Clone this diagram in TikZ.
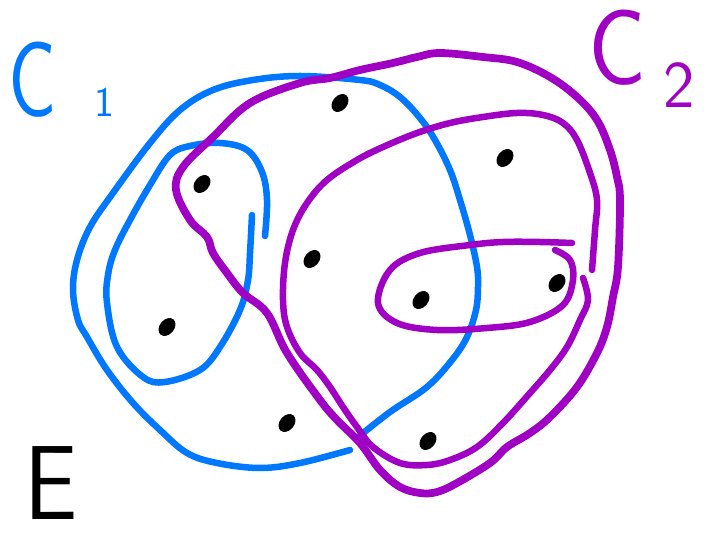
\documentclass[tikz,border=0pt]{standalone}
\usepackage{tikz}
\usetikzlibrary{shapes.geometric}
\definecolor{cblue}{RGB}{0,119,255}
\definecolor{cpurple}{RGB}{160,0,195}

\begin{document}
\begin{tikzpicture}[x=0.02cm, y=-0.02cm, line cap=round, line join=round,
		blueline/.style={draw=cblue, line width=3.7pt},
		purpleline/.style={draw=cpurple, line width=3.7pt},
		pt/.style={ellipse, fill=black, inner sep=0pt, minimum width=0.4cm, minimum height=0.29cm, rotate=50},
		lbl/.style={anchor=base west, inner sep=0pt, font=\sffamily}]
		\useasboundingbox (0,0) rectangle (707,540);
		% C1, outer
		\draw[blueline] plot[smooth, tension=0.6] coordinates {(357,438) (390,412) (427,387) (452,360) (467,337) (476,310) (478,287) (477,267) (470,235) (460,200) (450,170) (435,140) (420,118) (400,97) (380,85) (360,80) (300,76) (253,80) (213,90) (180,110) (150,143) (113,193) (90,227) (77,260) (73,290) (78,320) (87,337) (107,370) (133,403) (160,430) (187,453) (217,463) (260,468) (300,463) (350,450)};
		% C1, inner
		\draw[blueline] plot[smooth, tension=0.6] coordinates {(265,236) (267,200) (262,172) (247,150) (220,143) (190,146) (170,155) (150,185) (130,220) (115,250) (108,275) (107,303) (117,347) (143,377) (165,382) (200,370) (220,347) (240,310) (248,280) (250,253) (252,215)};
		% C2, outer
		\draw[purpleline, line width=4.4pt] plot[smooth cycle, tension=0.6] coordinates {(176,190) (190,220) (207,237) (213,253) (227,273) (243,293) (267,313) (287,353) (320,400) (337,420) (360,443) (380,470) (400,487) (420,493) (437,492) (457,483) (490,463) (507,447) (530,433) (550,417) (577,387) (597,353) (607,327) (613,297) (618,267) (620,200) (617,177) (610,150) (597,120) (577,97) (550,77) (517,62) (483,57) (440,53) (417,57) (393,63) (360,70) (330,78) (300,83) (250,103) (213,137) (183,167)};
		% C2, inner
		\draw[purpleline] plot[smooth, tension=0.6] coordinates {(583,278) (588,300) (580,320) (567,347) (550,370) (530,393) (503,423) (477,447) (450,460) (427,465) (400,463) (373,447) (357,427) (343,407) (330,387) (317,370) (300,353) (287,327) (283,300) (285,263) (293,230) (307,203) (327,180) (357,160) (383,147) (417,133) (450,123) (483,117) (517,113) (543,115) (563,123) (577,140) (590,173) (597,200) (595,230) (592,270)};
		% C2, small
		\draw[purpleline] plot[smooth, tension=0.6] coordinates {(572,243) (540,242) (503,242) (470,245) (420,253) (390,270) (378,303) (397,323) (437,330) (487,328) (530,322) (563,305) (573,280) (570,260) (555,250)};
		% elements
		\node[pt] (e1) at (202,184) {};
		\node[pt] (e2) at (340,103) {};
		\node[pt] (e3) at (312,259) {};
		\node[pt] (e4) at (505,158) {};
		\node[pt] (e5) at (167,327) {};
		\node[pt] (e6) at (421,300) {};
		\node[pt] (e7) at (557,283) {};
		\node[pt] (e8) at (287,423) {};
		\node[pt] (e9) at (428,441) {};
		% labels
		\node[lbl, text=cblue] (c1) at (8,117) {\fontsize{61}{61}\selectfont\scalebox{0.75}[1]{C}\hspace{0.75cm}\fontsize{24}{24}\selectfont 1};
		\node[lbl, text=cpurple] (c2) at (588,85) {\fontsize{61}{61}\selectfont\scalebox{0.9}[1]{C}\hspace{0.35cm}\raisebox{-0.46cm}{\fontsize{38}{38}\selectfont 2}};
		\node[lbl] (eset) at (24,520) {\fontsize{60}{60}\selectfont\scalebox{0.9}[1]{E}};
	\end{tikzpicture}
\end{document}
